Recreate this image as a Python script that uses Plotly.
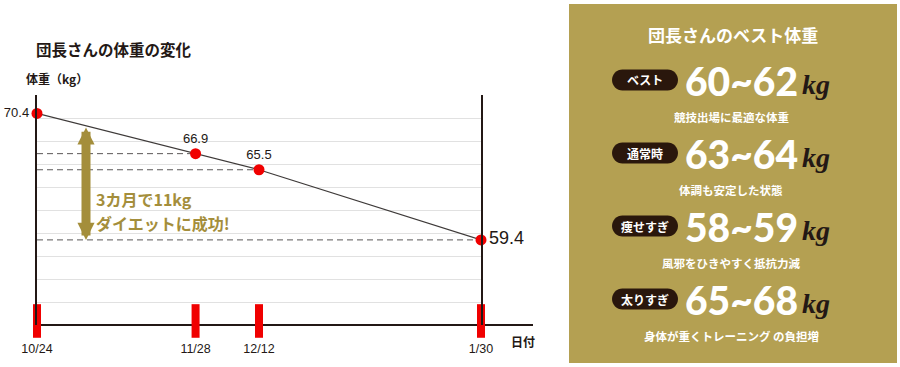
import plotly.graph_objects as go

# ---------------- data ----------------
dates = ["2022-10-24", "2022-11-28", "2022-12-12", "2023-01-30"]
date_labels = ["10/24", "11/28", "12/12", "1/30"]
weights = [70.4, 66.9, 65.5, 59.4]
y_min, y_max, y_step = 52, 72, 2

chart_title = "団長さんの体重の変化"
y_title = "体重（kg）"
x_title = "日付"
callout_lines = ["3カ月で11kg", "ダイエットに成功!"]

panel_title = "団長さんのベスト体重"
status_labels = ["ベスト", "通常時", "痩せすぎ", "太りすぎ"]
range_lo = [60, 63, 58, 65]
range_hi = [62, 64, 59, 68]
range_notes = ["競技出場に最適な体重", "体調も安定した状態",
               "風邪をひきやすく抵抗力減", "身体が重くトレーニング の負担増"]

# ---------------- layout geometry (pixels) ----------------
FIG_W, FIG_H = 900, 367
L, R, T, B = 37, 481, 95, 325
PW, PH = R - L, B - T


def px(x):
    return (x - L) / PW


def py(y):
    return (B - y) / PH


INK = "#231815"
RED = "#f00000"
GOLD = "#a48e3b"
PANEL = "#b4a052"
PILL = "#2a170c"
JP = "Noto Sans CJK JP"
LAT = "Liberation Sans"

fig = go.Figure()

# dashed guide lines from the left axis to each later point
for i in range(1, len(dates)):
    fig.add_trace(go.Scatter(
        x=[dates[0], dates[i]], y=[weights[i], weights[i]], mode="lines",
        line=dict(color="#5a5757", width=1, dash="6px,4px"),
        hoverinfo="skip", showlegend=False))

# weight line
fig.add_trace(go.Scatter(
    x=dates, y=weights, mode="lines",
    line=dict(color="#3e3a39", width=1.2),
    hoverinfo="skip", showlegend=False))

# red date ticks on the axis
fig.add_trace(go.Scatter(
    x=dates, y=[y_min + 0.35] * len(dates), mode="markers",
    marker=dict(symbol="line-ns", size=24, color=RED,
                line=dict(width=8, color=RED)),
    cliponaxis=False, hoverinfo="skip", showlegend=False))

# points + value labels
fig.add_trace(go.Scatter(
    x=dates, y=weights, mode="markers+text",
    text=[f"{w:.1f}" for w in weights],
    textposition=["middle left", "top center", "top center", "middle right"],
    textfont=dict(family=LAT, size=[13, 13, 13, 18], color=INK),
    marker=dict(size=11, color=RED),
    cliponaxis=False, hoverinfo="skip", showlegend=False))

shapes = []
# extended x axis line
shapes.append(dict(type="line", xref="paper", yref="paper",
                   x0=0, x1=px(533), y0=0, y1=0,
                   line=dict(color=INK, width=2), layer="below"))
# right panel
shapes.append(dict(type="rect", xref="paper", yref="paper",
                   x0=px(569), x1=px(897), y0=py(363), y1=py(4),
                   fillcolor=PANEL, line=dict(width=0), layer="below"))


def pill_path(x0, x1, cy, h):
    r = h / 2
    k = 0.5523 * r
    y0, y1 = cy - r, cy + r

    def P(x, y):
        return f"{px(x):.5f},{py(y):.5f}"
    return (f"M{P(x0 + r, y0)} L{P(x1 - r, y0)} "
            f"C{P(x1 - r + k, y0)} {P(x1, cy - k)} {P(x1, cy)} "
            f"C{P(x1, cy + k)} {P(x1 - r + k, y1)} {P(x1 - r, y1)} "
            f"L{P(x0 + r, y1)} "
            f"C{P(x0 + r - k, y1)} {P(x0, cy + k)} {P(x0, cy)} "
            f"C{P(x0, cy - k)} {P(x0 + r - k, y0)} {P(x0 + r, y0)} Z")


annotations = []
annotations.append(dict(text=f"<b>{chart_title}</b>", x=px(34), y=py(49),
                        xref="paper", yref="paper", xanchor="left", yanchor="middle",
                        showarrow=False, font=dict(family=JP, size=15.5, color=INK)))
annotations.append(dict(text=f"<b>{y_title}</b>", x=px(24), y=py(79),
                        xref="paper", yref="paper", xanchor="left", yanchor="middle",
                        showarrow=False, font=dict(family=JP, size=12, color=INK)))
annotations.append(dict(text=f"<b>{x_title}</b>", x=px(509), y=py(341),
                        xref="paper", yref="paper", xanchor="left", yanchor="middle",
                        showarrow=False, font=dict(family=JP, size=12, color=INK)))
# double arrow: 11kg drop
annotations.append(dict(text="", x=px(86), y=weights[-1], xref="paper", yref="y",
                        ax=0, ay=-(241 - 127), axref="pixel", ayref="pixel",
                        showarrow=True, arrowside="end+start",
                        arrowhead=2, startarrowhead=2,
                        arrowsize=0.38, startarrowsize=0.38,
                        arrowwidth=9, arrowcolor=GOLD,
                        standoff=0, startstandoff=0))
for j, line in enumerate(callout_lines):
    annotations.append(dict(text=f"<b>{line}</b>",
                            x=px(95), y=py(199 + 23.5 * j), xref="paper", yref="paper",
                            xanchor="left", yanchor="middle", align="left",
                            borderpad=0,
                            showarrow=False, font=dict(family=JP, size=16, color=GOLD)))
# panel title
annotations.append(dict(text=f"<b>{panel_title}</b>", x=px(733), y=py(35),
                        xref="paper", yref="paper", xanchor="center", yanchor="middle",
                        showarrow=False, font=dict(family=JP, size=17, color="white")))

row_y0, row_dy = 80, 73
for i, lab in enumerate(status_labels):
    cy = row_y0 + i * row_dy
    shapes.append(dict(type="path", xref="paper", yref="paper",
                       path=pill_path(612, 678, cy, 21),
                       fillcolor=PILL, line=dict(width=0), layer="above"))
    annotations.append(dict(text=f"<b>{lab}</b>", x=px(645), y=py(cy),
                            xref="paper", yref="paper", xanchor="center", yanchor="middle",
                            showarrow=False, font=dict(family=JP, size=12, color="white")))
    annotations.append(dict(text=f"{range_lo[i]}~{range_hi[i]}", x=px(683), y=py(cy + 1),
                            xref="paper", yref="paper", xanchor="left", yanchor="middle",
                            showarrow=False,
                            font=dict(family="Lato", size=39, color="white", weight=900)))
    annotations.append(dict(text="<b><i>kg</i></b>", x=px(800), y=py(cy + 4),
                            xref="paper", yref="paper", xanchor="left", yanchor="middle",
                            showarrow=False,
                            font=dict(family="Liberation Serif", size=28, color=INK)))
    annotations.append(dict(text=f"<b>{range_notes[i]}</b>", x=px(731), y=py(cy + 37),
                            xref="paper", yref="paper", xanchor="center", yanchor="middle",
                            showarrow=False, font=dict(family=JP, size=11.5, color="white")))

fig.update_layout(
    width=FIG_W, height=FIG_H, autosize=False,
    margin=dict(l=L, r=FIG_W - R, t=T, b=FIG_H - B, pad=0),
    paper_bgcolor="white", plot_bgcolor="rgba(0,0,0,0)",
    showlegend=False, hovermode=False,
    shapes=shapes, annotations=annotations,
    xaxis=dict(type="date", range=[dates[0], dates[-1]],
               tickvals=dates, ticktext=date_labels, ticks="",
               ticklabelstandoff=14,
               tickfont=dict(family=LAT, size=12.5, color=INK),
               showgrid=False, zeroline=False, showline=False, fixedrange=True),
    yaxis=dict(range=[y_min, y_max], tick0=y_min, dtick=y_step,
               showgrid=True, gridcolor="#e1e1e1", gridwidth=1,
               showticklabels=False, ticks="", zeroline=False,
               showline=True, linecolor=INK, linewidth=2, mirror=True,
               fixedrange=True),
)

fig.write_html("out.html")
